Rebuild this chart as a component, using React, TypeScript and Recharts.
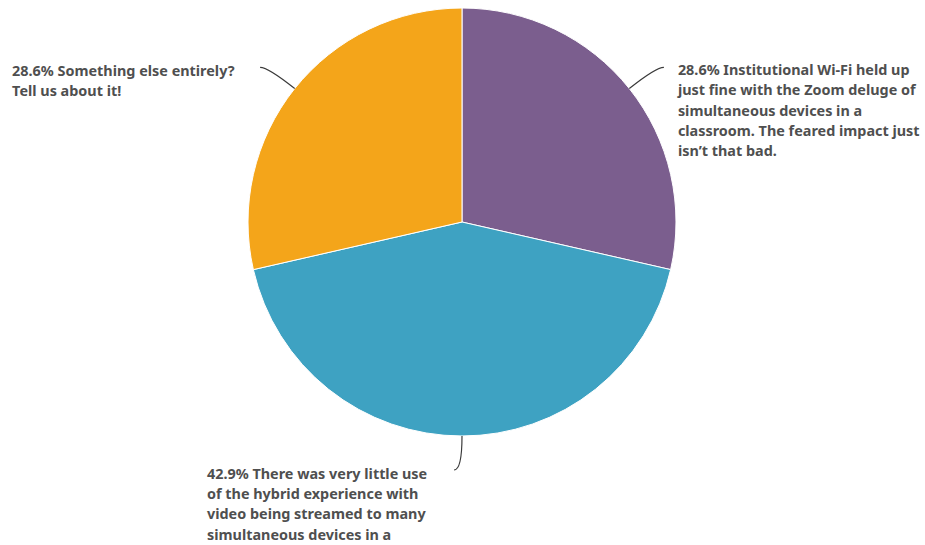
import React from 'react'
import { PieChart, Pie, Cell } from 'recharts'

const CATEGORIES = [
  'Institutional Wi-Fi held up just fine with the Zoom deluge of simultaneous devices in a classroom. The feared impact just isn’t that bad.',
  'There was very little use of the hybrid experience with video being streamed to many simultaneous devices in a classroom.',
  'Something else entirely? Tell us about it!',
]
const VALUES = [2, 3, 2]
const COLORS = ['#7b5e8e', '#3ea2c2', '#f4a51a']

// wrapped label lines, as far as the picture shows them
const LABEL_LINES = [
  ['28.6% Institutional Wi-Fi held up', 'just fine with the Zoom deluge of', 'simultaneous devices in a', 'classroom. The feared impact just', 'isn’t that bad.'],
  ['42.9% There was very little use', 'of the hybrid experience with', 'video being streamed to many', 'simultaneous devices in a'],
  ['28.6% Something else entirely?', 'Tell us about it!'],
]

const data = CATEGORIES.map((name, i) => ({ name, value: VALUES[i] }))

const RAD = Math.PI / 180
const LINE_H = 20.4

function geom(cx: number, cy: number, r: number, midAngle: number) {
  const cos = Math.cos(-midAngle * RAD)
  const sin = Math.sin(-midAngle * RAD)
  const sx = cx + r * cos
  const sy = cy + r * sin
  const ex = cx + (r + 34) * cos
  const ey = cy + (r + 34) * sin
  const side = Math.abs(cos) < 0.2 ? -1 : cos >= 0 ? 1 : -1
  const tx = ex + side * 8
  return { sx, sy, ex, ey, tx, side }
}

// text block offsets from the line end
const TEXT_POS = [
  { dx: 14, dy: 7.5 },
  { dx: -247, dy: 8.5 },
  { dx: -248, dy: 8.5 },
]

function renderLine(props: any) {
  const { cx, cy, outerRadius, midAngle } = props
  const g = geom(cx, cy, outerRadius, midAngle)
  return (
    <path
      d={`M${g.sx},${g.sy} Q${g.ex},${g.ey} ${g.tx},${g.ey}`}
      stroke="#3a3a3a"
      strokeWidth={1.2}
      fill="none"
    />
  )
}

function renderLabel(props: any) {
  const { cx, cy, outerRadius, midAngle, index } = props
  const g = geom(cx, cy, outerRadius, midAngle)
  const p = TEXT_POS[index]
  const x = g.tx + p.dx
  const y = g.ey + p.dy
  return (
    <text
      x={x}
      y={y}
      fill="#4f4f4f"
      fontFamily="'Noto Sans', 'Open Sans', sans-serif"
      fontWeight={700}
      fontSize={14.4}
      textAnchor="start"
    >
      {LABEL_LINES[index].map((l, k) => (
        <tspan key={k} x={x} y={y + k * LINE_H}>
          {l}
        </tspan>
      ))}
    </text>
  )
}

export default function App() {
  return (
    <div style={{ position: 'absolute', left: 0, top: 0, width: 925, height: 545, background: '#fff' }}>
      <PieChart width={925} height={545} margin={{ top: 0, right: 0, bottom: 0, left: 0 }}>
        <Pie
          data={data}
          dataKey="value"
          nameKey="name"
          cx={462}
          cy={222}
          outerRadius={214}
          startAngle={90}
          endAngle={-270}
          stroke="#ffffff"
          strokeWidth={1}
          label={renderLabel}
          labelLine={renderLine}
          isAnimationActive={false}
        >
          {data.map((_, i) => (
            <Cell key={i} fill={COLORS[i]} />
          ))}
        </Pie>
      </PieChart>
    </div>
  )
}
